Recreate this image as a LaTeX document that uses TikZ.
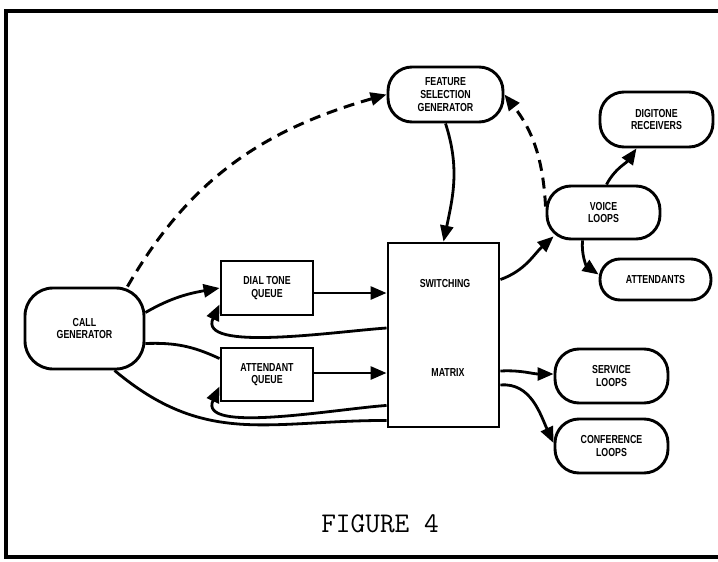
\documentclass[tikz,border=0pt]{standalone}
\usepackage{fontspec}
\newfontfamily\lblfont[FakeStretch=0.76]{Liberation Sans}
\usetikzlibrary{arrows.meta,calc}
\begin{document}
\begin{tikzpicture}[x=1pt,y=1pt,
  txt/.style={inner sep=0pt, align=center,
    font=\lblfont\bfseries\fontsize{11.6}{12.7}\selectfont},
  box/.style={txt, draw, line width=2.9pt},
  pill/.style={box, rounded corners=24pt},
  link/.style={line width=2.8pt},
  tip/.style={-{Triangle[length=16pt,width=13pt]}},
  dashlink/.style={link, line width=3pt, dash pattern=on 11pt off 7pt}
]
\useasboundingbox (0,0) rectangle (718,-562);

% frame (open on the right)
\draw[line width=3.8pt] (718,-11) -- (6,-11) -- (6,-557) -- (718,-557);

% blocks
\node[pill, rounded corners=28pt, minimum width=119pt, minimum height=81pt]
  (callgen) at (84.5,-328.5) {CALL\\GENERATOR};
\node[box, minimum width=92pt, minimum height=54pt]
  (dialq) at (267,-288) {DIAL TONE\\QUEUE};
\node[box, minimum width=92pt, minimum height=53pt]
  (attq) at (267,-374.5) {ATTENDANT\\QUEUE};
\node[box, minimum width=111pt, minimum height=184pt]
  (switch) at (443.5,-335) {};
\node[txt] (swlbl) at (445,-284) {SWITCHING};
\node[txt] (mxlbl) at (448,-373) {MATRIX};
\node[pill, minimum width=115pt, minimum height=55pt]
  (feature) at (445.5,-94.5) {FEATURE\\SELECTION\\GENERATOR};
\node[pill, minimum width=113pt, minimum height=55pt]
  (digitone) at (656.5,-119.5) {DIGITONE\\RECEIVERS};
\node[pill, minimum width=113pt, minimum height=53pt]
  (voice) at (603.5,-212.5) {VOICE\\LOOPS};
\node[pill, rounded corners=20pt, minimum width=111pt, minimum height=41pt]
  (attendants) at (655.5,-279.5) {ATTENDANTS};
\node[pill, minimum width=113pt, minimum height=54pt]
  (service) at (611.5,-376) {SERVICE\\LOOPS};
\node[pill, minimum width=113pt, minimum height=54pt]
  (conference) at (611.5,-446) {CONFERENCE\\LOOPS};

\node[inner sep=0pt, font=\ttfamily\fontsize{28.5}{30}\selectfont]
  (caption) at (380,-524) {FIGURE 4};

% dashed feature requests
\draw[dashlink, tip] ([xshift=-18pt]callgen.north east)
  to[out=60, in=196] (feature.west);
\draw[dashlink, tip] ([yshift=6pt]voice.west)
  to[out=93, in=-52] (feature.east);

% feature generator into the matrix
\draw[link, tip] (feature.south) to[out=-72, in=78] (switch.north);

% call generator and queues
\draw[link, tip] ([yshift=16pt]callgen.east) to[out=30, in=190] (dialq.west);
\coordinate (dq) at ([yshift=-5pt]dialq.east);
\draw[link, tip] (dq) -- (dq -| switch.west);
\draw[link, tip] ([yshift=7pt]switch.west)
  to[out=184, in=-115, looseness=0.8] ([yshift=12pt]dialq.south west);

\draw[link] ([yshift=-15pt]callgen.east) to[out=2, in=155] ([yshift=-12pt]attq.north west);
\coordinate (aq) at ([yshift=1.5pt]attq.east);
\draw[link, tip] (aq) -- (aq -| switch.west);
\draw[link, tip] ([yshift=23pt]switch.south west)
  to[out=184, in=-115, looseness=0.8] ([yshift=16pt]attq.south west);

\draw[link] ([xshift=30pt]callgen.south)
  to[out=-40, in=180, looseness=1.1] ([yshift=8pt]switch.south west);

% matrix outputs
\draw[link, tip] ([yshift=-38pt]switch.north east)
  to[out=20, in=222] ([xshift=8pt,yshift=4pt]voice.south west);
\draw[link, tip] ([xshift=3pt]voice.north) to[out=62, in=235] ([xshift=-20pt]digitone.south);
\draw[link, tip] ([xshift=-21pt]voice.south) to[out=-95, in=145] ([yshift=5pt]attendants.west);
\draw[link, tip] ([yshift=-36pt]switch.east) to[out=3, in=180] ([yshift=2pt]service.west);
\draw[link, tip] ([yshift=-50pt]switch.east) to[out=5, in=115] ([yshift=3pt]conference.west);
\end{tikzpicture}
\end{document}
